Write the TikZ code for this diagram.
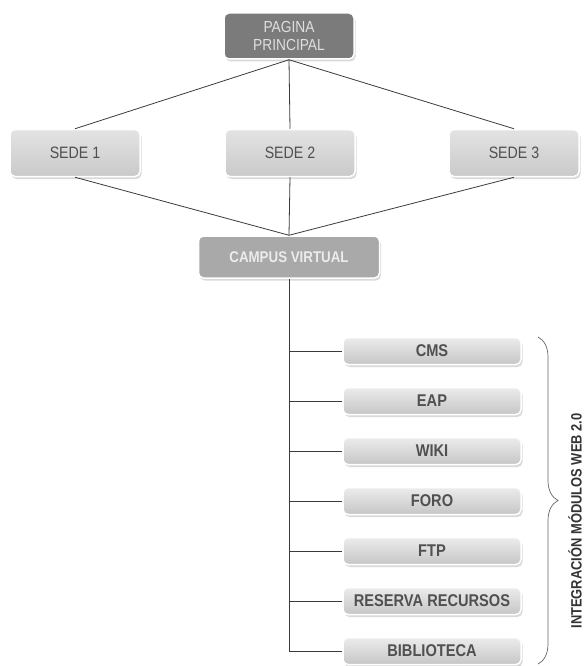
\documentclass[tikz,border=0pt]{standalone}
\usepackage{fontspec}
\setmainfont[FakeStretch=0.86]{Liberation Sans}
\usetikzlibrary{shadows,decorations.pathreplacing}
\definecolor{linegray}{HTML}{3A3A3A}
\definecolor{textgray}{HTML}{505050}
\definecolor{darkbox}{HTML}{7B7B7B}
\definecolor{midbox}{HTML}{A9A9A9}

\begin{document}
\begin{tikzpicture}[x=1pt, y=-1pt,
  box/.style={rounded corners=5pt, draw=white, line width=1.5pt, align=center,
    drop shadow={shadow xshift=1.5pt, shadow yshift=-2.5pt, opacity=0.3},
    font=\fontsize{16.5}{19}\selectfont},
  sedebox/.style={box, minimum width=130pt, minimum height=47pt,
    top color=gray!22, bottom color=gray!42, text=textgray},
  modbox/.style={box, minimum width=178pt, minimum height=27pt, inner sep=1pt,
    top color=gray!15, bottom color=gray!45, text=textgray,
    font=\bfseries\fontsize{17}{18}\selectfont},
  link/.style={draw=linegray, line width=0.8pt}]
  \useasboundingbox (0,0) rectangle (585,666);
  % Nodes
  \node[box, fill=darkbox, text=gray!25, minimum width=130pt, minimum height=46pt,
    font=\fontsize{16}{18}\selectfont] (PP) at (289,36) {PAGINA\\PRINCIPAL};
  \node[sedebox] (S1) at (75,153)  {SEDE 1};
  \node[sedebox] (S2) at (290,153) {SEDE 2};
  \node[sedebox] (S3) at (514,153) {SEDE 3};
  \node[box, fill=midbox, text=gray!15, minimum width=181pt, minimum height=42pt,
    font=\bfseries\fontsize{15.5}{18}\selectfont] (CV) at (289,257) {CAMPUS VIRTUAL};
  % Modules
  \node[modbox] (CMS) at (432,351) {CMS};
  \node[modbox] (EAP) at (432,401) {EAP};
  \node[modbox] (WIKI) at (432,451) {WIKI};
  \node[modbox] (FORO) at (432,501) {FORO};
  \node[modbox] (FTP) at (432,551) {FTP};
  \node[modbox] (RES) at (432,601) {RESERVA RECURSOS};
  \node[modbox] (BIB) at (432,651) {BIBLIOTECA};
  % Upper links
  \draw[link] (PP.south) -- (S1.north);
  \draw[link] (PP.south) -- (S2.north);
  \draw[link] (PP.south) -- (S3.north);
  \draw[link] (S1.south) -- (CV.north);
  \draw[link] (S2.south) -- (CV.north);
  \draw[link] (S3.south) -- (CV.north);
  % Trunk to modules
  \draw[link] (CV.south) |- (BIB.west);
  \draw[link] (CV.south |- CMS.west) -- (CMS.west);
  \draw[link] (CV.south |- EAP.west) -- (EAP.west);
  \draw[link] (CV.south |- WIKI.west) -- (WIKI.west);
  \draw[link] (CV.south |- FORO.west) -- (FORO.west);
  \draw[link] (CV.south |- FTP.west) -- (FTP.west);
  \draw[link] (CV.south |- RES.west) -- (RES.west);
  % Brace and label
  \coordinate (BT) at (538,337);
  \coordinate (BB) at (538,664);
  \draw[gray!80!black, line width=0.7pt, decorate, decoration={brace, amplitude=20pt}] (BT) -- (BB);
  \node[rotate=90, inner sep=1pt, text=black!80, font=\bfseries\fontsize{15}{17}\selectfont] (LBL) at (575,521) {INTEGRACIÓN MÓDULOS WEB 2.0};
\end{tikzpicture}
\end{document}
